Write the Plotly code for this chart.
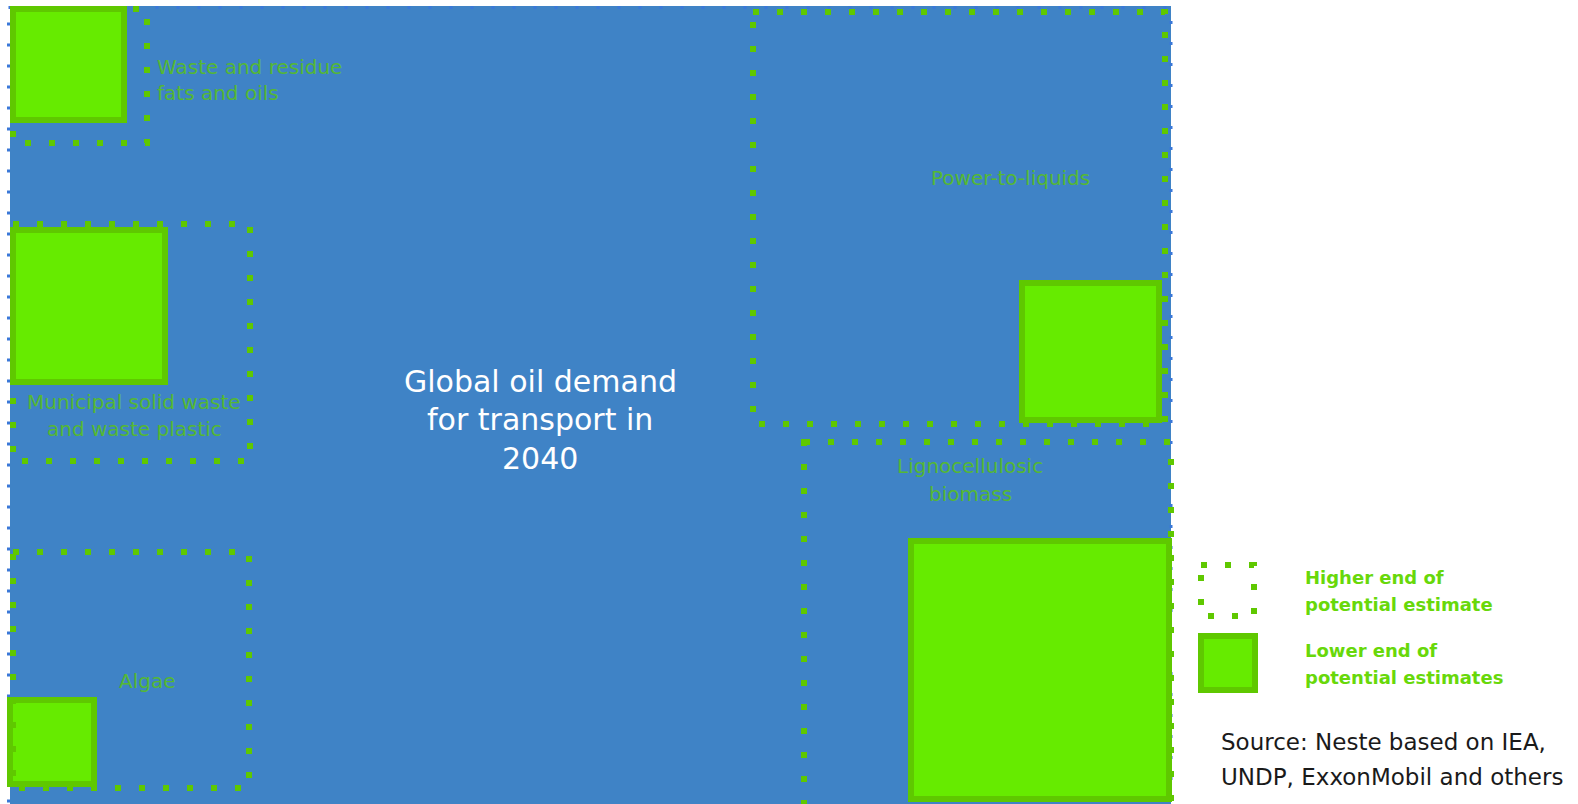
import plotly.graph_objects as go

# ---------------- data ----------------
categories = ["Waste and residue<br>fats and oils",
              "Municipal solid waste<br>and waste plastic",
              "Algae",
              "Power-to-liquids",
              "Lignocellulosic<br>biomass"]
# side length of each square (chart units)
lower_side = [117, 158, 90, 143, 264]     # lower end of potential estimates
higher_side = [140, 243, 242, 418, 373]   # higher end of potential estimate
total_label = "Global oil demand<br>for transport in<br>2040"
total_size = [1161, 798]                  # width, height of the demand block

legend_labels = ["Higher end of<br>potential estimate", "Lower end of<br>potential estimates"]
source_text = ["Source: Neste based on IEA,", "UNDP, ExxonMobil and others"]

# ---------------- layout placement ----------------
total_origin = (10, 6)
# anchor corner (x, y) and which corner: 'tl','bl','br'
higher_anchor = [((10, 6), "tl"), ((10, 221), "tl"), ((10, 549), "tl"),
                 ((750, 9), "tl"), ((801, 439), "tl")]
lower_anchor = [((10, 6), "tl"), ((10, 227), "tl"), ((7, 787), "bl"),
                ((1162, 423), "br"), ((1172, 802), "br")]
label_pos = [(155, [67, 93], "left"), (134, [402, 429], "center"),
             (147, [681], "center"), (1010, [178], "center"),
             (970, [466, 494], "center")]

BLUE = "#3F83C6"
BLUE_DOT = "#3A78D8"
G_FILL = "#66EB00"
G_LINE = "#5FC800"
G_TEXT = "#55B834"
G_LEG = "#68D80A"
FONT = "DejaVu Sans"


def rect_from(anchor, corner, side):
    x, y = anchor
    if corner == "tl":
        return x, y, x + side, y + side
    if corner == "bl":
        return x, y - side, x + side, y
    if corner == "br":
        return x - side, y - side, x, y
    return x - side, y, x, y + side


fig = go.Figure()
# invisible trace to set up axes
fig.add_trace(go.Scatter(x=[0, 1578], y=[0, 804], mode="markers",
                         marker=dict(opacity=0), hoverinfo="skip", showlegend=False))

shapes = []
# demand block
x0, y0 = total_origin
shapes.append(dict(type="rect", x0=x0, y0=y0, x1=x0 + total_size[0], y1=y0 + total_size[1],
                   fillcolor=BLUE, line=dict(width=0), layer="below"))
shapes.append(dict(type="rect", x0=x0 - 1.5, y0=y0 + 1.5, x1=x0 + total_size[0], y1=y0 + total_size[1] + 3,
                   fillcolor="rgba(0,0,0,0)", line=dict(color=BLUE_DOT, width=3, dash="3px,18px")))

lw_solid = 6
lw_dot = 6
for i in range(len(categories)):
    # lower (solid)
    a, c = lower_anchor[i]
    rx0, ry0, rx1, ry1 = rect_from(a, c, lower_side[i])
    h = lw_solid / 2
    shapes.append(dict(type="rect", x0=rx0 + h, y0=ry0 + h, x1=rx1 - h, y1=ry1 - h,
                       fillcolor=G_FILL, line=dict(color=G_LINE, width=lw_solid)))
for i in range(len(categories)):
    a, c = higher_anchor[i]
    rx0, ry0, rx1, ry1 = rect_from(a, c, higher_side[i])
    h = lw_dot / 2
    shapes.append(dict(type="rect", x0=rx0 + h, y0=ry0 + h, x1=rx1 - h, y1=ry1 - h,
                       fillcolor="rgba(0,0,0,0)", line=dict(color=G_LINE, width=lw_dot, dash="6px,18px")))

# legend symbols
shapes.append(dict(type="rect", x0=1201, y0=565, x1=1254, y1=616,
                   fillcolor="rgba(0,0,0,0)", line=dict(color=G_LINE, width=6, dash="6px,18px")))
shapes.append(dict(type="rect", x0=1201, y0=636, x1=1255, y1=690,
                   fillcolor=G_FILL, line=dict(color=G_LINE, width=6)))

annotations = []
for i, lab in enumerate(categories):
    cx, ys, al = label_pos[i]
    for line, yy in zip(lab.split("<br>"), ys):
        annotations.append(dict(x=cx, y=yy, text=line, showarrow=False,
                                xanchor=al, yanchor="middle",
                                font=dict(family=FONT, size=20, color=G_TEXT)))

for line, yy in zip(total_label.split("<br>"), [381, 419, 458]):
    annotations.append(dict(x=540, y=yy, text=line, showarrow=False, xanchor="center",
                            yanchor="middle", font=dict(family=FONT, size=30, color="white")))

for lab, ys in zip(legend_labels, [[577, 604], [650, 677]]):
    for line, yy in zip(lab.split("<br>"), ys):
        annotations.append(dict(x=1303, y=yy, text=line, showarrow=False, xanchor="left",
                                yanchor="middle",
                                font=dict(family=FONT, size=18, color=G_LEG, weight="bold")))

for line, yy in zip(source_text, [742, 777]):
    annotations.append(dict(x=1219, y=yy, text=line, showarrow=False, xanchor="left",
                            yanchor="middle", font=dict(family=FONT, size=23, color="#1A1A1A")))

fig.update_layout(
    width=1578, height=804,
    margin=dict(l=0, r=0, t=0, b=0, pad=0),
    paper_bgcolor="white", plot_bgcolor="white",
    xaxis=dict(range=[0, 1578], visible=False, fixedrange=True),
    yaxis=dict(range=[804, 0], visible=False, fixedrange=True),
    shapes=shapes, annotations=annotations, showlegend=False,
)

fig.write_html("out.html", config={"displayModeBar": False},
               post_script="document.body.style.margin='0';document.body.style.overflow='hidden';")
